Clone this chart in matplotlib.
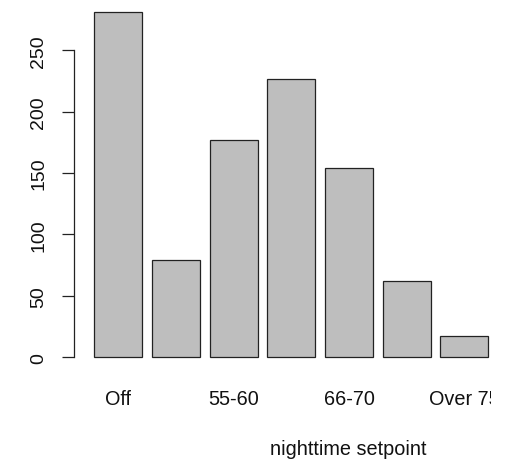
import matplotlib
matplotlib.use("Agg")
import matplotlib.pyplot as plt
from matplotlib.transforms import Bbox, TransformedBbox, blended_transform_factory

categories = ["Off", "Under 55", "55-60", "61-65", "66-70", "71-75", "Over 75"]
counts = [281, 79, 177, 227, 154, 62, 17]
shown_labels = ["Off", "", "55-60", "", "66-70", "", "Over 75"]
yticks = [0, 50, 100, 150, 200, 250]
xlabel = "nighttime setpoint"

plt.rcParams['font.family'] = ['Liberation Sans', 'DejaVu Sans']

W, H = 508, 460
fig = plt.figure(figsize=(W / 100, H / 100), dpi=100)
ax = fig.add_axes([78.6 / W, (H - 372.1) / H, 425.4 / W, 372.7 / H])

width = 1.0
space = 0.2
lefts = [space + i * (width + space) for i in range(len(counts))]
centers = [l + width / 2 for l in lefts]
ax.bar(centers, counts, width=width, color="#BEBEBE", edgecolor="#222222", linewidth=0.9)

top = max(counts)
ax.set_xlim(space - 0.04 * (lefts[-1] + width - space), lefts[-1] + width + 0.04 * (lefts[-1] + width - space))
ax.set_ylim(-0.04 * top, top * 1.04)

for s in ["top", "right", "bottom"]:
    ax.spines[s].set_visible(False)
ax.spines["left"].set_bounds(0, 250)
ax.spines["left"].set_position(("outward", 3.6))
ax.spines["left"].set_linewidth(0.9)
ax.spines["left"].set_color("#222222")

ax.set_yticks(yticks)
ax.set_yticklabels([str(t) for t in yticks], rotation=90, va="center", fontsize=14, color="#111111")
ax.tick_params(axis="y", direction="out", length=8.5, width=0.9, color="#222222", pad=10.5)
ax.set_xticks([])

clip = TransformedBbox(Bbox([[0, 0], [491.2 / W, 1]]), fig.transFigure)
trans = blended_transform_factory(ax.transData, fig.transFigure)
for c, lab in zip(centers, shown_labels):
    if lab:
        t = ax.text(c, (H - 399.5) / H, lab, transform=trans, ha="center", va="center",
                    fontsize=14.3, color="#111111", clip_on=True)
        t.set_clip_box(clip)

fig.text(348.5 / W, (H - 455) / H, xlabel, ha="center", va="baseline", fontsize=14.3, color="#111111")

fig.savefig("out.png", dpi=100)
